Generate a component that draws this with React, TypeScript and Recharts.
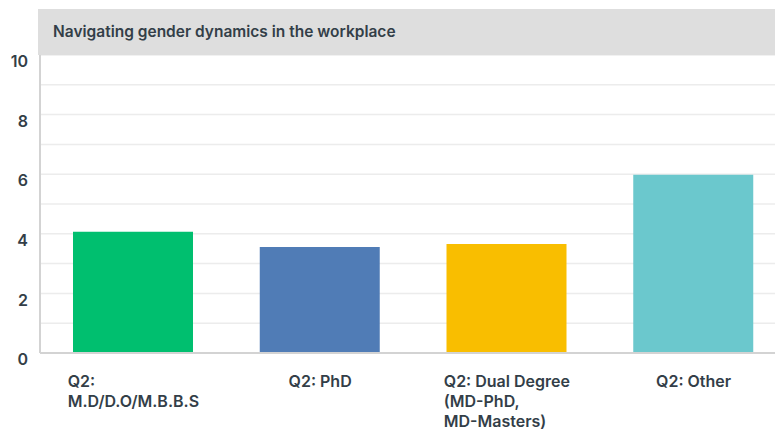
import React from 'react';
import { BarChart, Bar, XAxis, YAxis, CartesianGrid, Cell } from 'recharts';

const categories = ['Q2: M.D/D.O/M.B.B.S', 'Q2: PhD', 'Q2: Dual Degree (MD-PhD, MD-Masters)', 'Q2: Other'];
const values = [4.07, 3.56, 3.66, 5.98];
const barColors = ['#00BF6F', '#507CB6', '#F9BE00', '#6BC8CD'];
const yTicks = [0, 1, 2, 3, 4, 5, 6, 7, 8, 9, 10];

const TITLE = 'Navigating gender dynamics in the workplace';
const FONT = 'Inter, Roboto, sans-serif';
const TEXT = '#333e48';

const data = categories.map((name, i) => ({ name, value: values[i] }));

let ctx: CanvasRenderingContext2D | null = null;
const measure = (s: string) => {
  if (!ctx) {
    ctx = document.createElement('canvas').getContext('2d');
    if (ctx) ctx.font = `600 16px ${FONT}`;
  }
  return ctx ? ctx.measureText(s).width : s.length * 8;
};

// wrap words into lines no wider than maxW
const wrap = (label: string, maxW: number) => {
  const words = label.split(' ');
  const lines: string[] = [];
  let cur = '';
  words.forEach(w => {
    const next = cur ? cur + ' ' + w : w;
    if (cur && measure(next) > maxW) {
      lines.push(cur);
      cur = w;
    } else {
      cur = next;
    }
  });
  if (cur) lines.push(cur);
  return lines;
};

const XTick = ({ x, y, payload }: any) => {
  const lines = wrap(payload.value, 150);
  const w = Math.max(...lines.map(measure));
  return (
    <g>
      {lines.map((l, i) => (
        <text key={i} x={x - w / 2} y={y + 20 + i * 20} dy="0.35em" textAnchor="start"
          fill={TEXT} fontSize={16} fontWeight={600} fontFamily={FONT}>{l}</text>
      ))}
    </g>
  );
};

const YTick = ({ x, y, payload }: any) => {
  if (payload.value % 2 !== 0) return null;
  return (
    <text x={x} y={y + 6.5} dy="0.35em" textAnchor="end" fill={TEXT}
      fontSize={16} fontWeight={600} fontFamily={FONT}>{payload.value}</text>
  );
};

export default function App() {
  return (
    <div style={{ position: 'fixed', left: 0, top: 0, width: 775, height: 430, overflow: 'hidden', background: '#fff' }}>
      <div style={{
        position: 'absolute', left: 38, top: 9, width: 737, height: 46, background: '#dedede',
        fontFamily: FONT, fontWeight: 600, fontSize: 15.5, color: TEXT, lineHeight: '46px',
        paddingLeft: 15, boxSizing: 'border-box', zIndex: 1,
      }}>{TITLE}</div>
      <BarChart width={787} height={430} data={data} margin={{ top: 55, right: 0, left: 0, bottom: 0 }} barSize={120}>
        <CartesianGrid vertical={false} stroke="#ececec" strokeWidth={1.5} />
        <XAxis dataKey="name" axisLine={{ stroke: '#d3d3d3', strokeWidth: 2 }} tickLine={false}
          tick={<XTick />} interval={0} height={77} />
        <YAxis domain={[0, 10]} ticks={yTicks} width={40} axisLine={{ stroke: '#d3d3d3', strokeWidth: 2 }}
          tickLine={false} tickSize={0} tickMargin={12} tick={<YTick />} interval={0} />
        <Bar dataKey="value" isAnimationActive={false}>
          {data.map((d, i) => <Cell key={d.name} fill={barColors[i]} />)}
        </Bar>
      </BarChart>
    </div>
  );
}
